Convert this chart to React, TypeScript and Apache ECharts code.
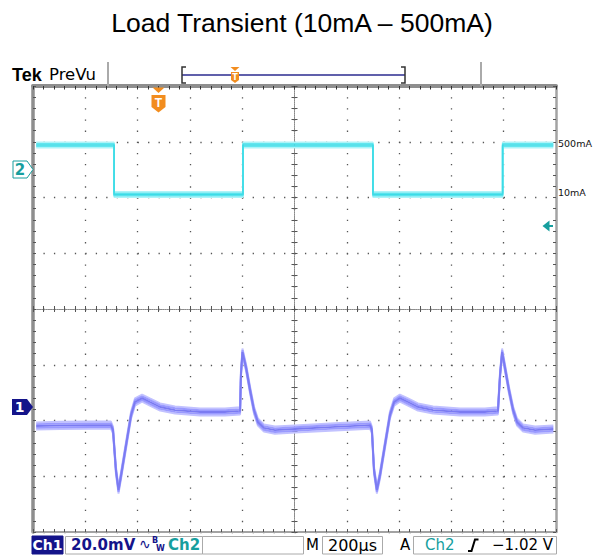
import React, { useEffect, useRef } from "react";
import * as echarts from "echarts";

// ---------- data ----------
const TITLE = "Load Transient (10mA \u2013 500mA)";

// time in µs from the left edge of the screen (10 div × 200 µs)
const ch2Time = [12, 310, 310, 803, 803, 1300, 1300, 1796, 1796, 1990];
const ch2Current = [500, 500, 10, 10, 500, 500, 10, 10, 500, 500]; // mA

const ch1Time = [
  12, 103, 218, 298, 306, 317, 327, 337, 356, 375,
  390, 417, 447, 486, 543, 639, 734, 792, 795, 801,
  815, 830, 845, 860, 883, 925, 1002, 1136, 1289, 1296,
  1304, 1315, 1327, 1346, 1365, 1381, 1403, 1434, 1472, 1530,
  1633, 1728, 1778, 1786, 1794, 1805, 1820, 1836, 1851, 1874,
  1920, 1990,
];
const ch1Voltage = [
  -6.8, -6.6, -6.5, -6.5, -8.3, -22.6, -29.8, -24.4, -13.6, -2.9,
  1.8, 3.2, 1.8, 0, -1.1, -1.8, -1.8, -1.4, 11.5, 19.7,
  14.0, 6.1, -1.1, -5.4, -7.5, -8.3, -7.9, -7.2, -6.5, -8.3,
  -22.6, -29.8, -24.4, -13.6, -2.9, 1.8, 3.2, 1.8, 0, -1.1,
  -1.8, -1.8, -1.4, 11.5, 19.7, 14.0, 6.1, -1.1, -5.4, -7.5,
  -8.3, -7.9,
]; // mV relative to the Ch1 marker

const ch2LevelLabels = ["500mA", "10mA"];
const ch2LevelValues = [500, 10];

const statusCh1 = "Ch1";
const statusVdiv = "20.0mV";
const statusCh2 = "Ch2";
const statusM = "M";
const statusTime = "200\u00b5s";
const statusA = "A";
const statusTrigCh = "Ch2";
const statusTrigLevel = "\u22121.02 V";

// ---------- scales ----------
const TIME_SPAN = 2000;
const TIME_DIV = 200;
const Y_DIVS = 4;
const GRID = { left: 33, top: 86, width: 523, height: 446 };
const PX_PER_DIV_Y = GRID.height / (2 * Y_DIVS);
const PX_PER_DIV_X = GRID.width / (TIME_SPAN / TIME_DIV);

const CH1_MV_PER_DIV = 20;
const CH1_POS_DIV = -1.758;
const CH2_MA_PER_DIV = 552;
const CH2_POS_DIV = 2.036;

const ch1ToDiv = (mv: number) => CH1_POS_DIV + mv / CH1_MV_PER_DIV;
const ch2ToDiv = (ma: number) => CH2_POS_DIV + ma / CH2_MA_PER_DIV;

const ORANGE = "#f28d1f";
const TEAL = "#169e9e";
const NAVY = "#14148a";

function band(
  xs: number[],
  ys: number[],
  toDiv: (v: number) => number,
  offsets: number[],
  colors: string[],
  width: number
) {
  return offsets.map((o, i) => ({
    type: "line",
    data: xs.map((t, k) => [t - TIME_SPAN / 2, toDiv(ys[k]) + o / PX_PER_DIV_Y]),
    symbol: "none",
    silent: true,
    z: 3 + i,
    lineStyle: { color: colors[i], width },
  }));
}

function baseAxis(extra: any) {
  return {
    type: "value",
    axisLabel: { show: false },
    splitLine: { show: false },
    ...extra,
  };
}

export default function App() {
  const ref = useRef<HTMLDivElement>(null);

  useEffect(() => {
    if (!ref.current) return;
    const chart = echarts.init(ref.current, undefined, { renderer: "svg" });

    const xCommon = { min: -TIME_SPAN / 2, max: TIME_SPAN / 2, interval: TIME_DIV };
    const yCommon = { min: -Y_DIVS, max: Y_DIVS, interval: 1 };
    const tick = (inside: boolean, len: number, color = "#555") => ({
      axisTick: { show: true, inside, length: len, lineStyle: { color, width: 1 } },
      minorTick: { show: true, splitNumber: 5, length: len, lineStyle: { color, width: 1 } },
    });
    const dotX = PX_PER_DIV_Y / 5;
    const dotY = PX_PER_DIV_X / 5;

    const ch2Series = band(
      ch2Time,
      ch2Current,
      ch2ToDiv,
      [-2.6, 2.6, -1.3, 1.3, 0],
      ["#aef4f8", "#aef4f8", "#62e6ef", "#62e6ef", "#3ddbe6"],
      1.6
    );
    (ch2Series[ch2Series.length - 1] as any).markLine = {
      silent: true,
      symbol: ["none", "none"],
      lineStyle: { width: 0, color: "rgba(0,0,0,0)", opacity: 1 },
      label: {
        show: true,
        position: "end",
        distance: 2,
        offset: [0, -2],
        color: "#111",
        opacity: 1,
        fontSize: 9.5,
        fontFamily: "DejaVu Sans",
        formatter: (p: any) => p.name,
      },
      data: ch2LevelValues.map((v, i) => ({ name: ch2LevelLabels[i], yAxis: ch2ToDiv(v) })),
    };
    const ch1Series = band(
      ch1Time,
      ch1Voltage,
      ch1ToDiv,
      [-3.6, 3.6, -1.8, 1.8, 0],
      ["#c2c2ff", "#c2c2ff", "#9a9aff", "#9a9aff", "#7b7bf2"],
      1.9
    );

    const txt = (text: string, x: number, y: number, o: any = {}) => ({
      type: "text",
      x,
      y,
      z: 20,
      style: {
        text,
        fontSize: 15,
        fontFamily: "DejaVu Sans",
        fill: "#000",
        align: "left",
        verticalAlign: "middle",
        ...o,
      },
    });
    const box = (x: number, y: number, w: number, h: number, fill = "#fff", stroke = "#aaa") => ({
      type: "rect",
      z: 15,
      shape: { x, y, width: w, height: h },
      style: { fill, stroke, lineWidth: 1 },
    });

    const graphic: any[] = [
      txt(TITLE, 302, 23, { fontSize: 26.5, fontFamily: "Liberation Sans, Arial", align: "center" }),
      // top bar
      txt("Tek", 12, 75, { fontSize: 18, fontWeight: "bold", fontFamily: "Liberation Sans, Arial" }),
      txt("PreVu", 49, 74, { fontSize: 16.5 }),
      { type: "line", z: 15, shape: { x1: 108, y1: 62, x2: 108, y2: 86 }, style: { stroke: "#aaa", lineWidth: 2 } },
      { type: "line", z: 15, shape: { x1: 481, y1: 62, x2: 481, y2: 86 }, style: { stroke: "#aaa", lineWidth: 2 } },
      // record view
      { type: "line", z: 15, shape: { x1: 182, y1: 75, x2: 405, y2: 75 }, style: { stroke: "#2b2b8f", lineWidth: 1.5 } },
      { type: "polyline", z: 15, shape: { points: [[186, 67], [182, 67], [182, 83], [186, 83]] }, style: { stroke: "#333", lineWidth: 1.5, fill: "none" } },
      { type: "polyline", z: 15, shape: { points: [[401, 67], [405, 67], [405, 83], [401, 83]] }, style: { stroke: "#333", lineWidth: 1.5, fill: "none" } },
      { type: "polygon", z: 16, shape: { points: [[230.5, 67], [239.5, 67], [235, 71]] }, style: { fill: ORANGE } },
      { type: "polygon", z: 16, shape: { points: [[231, 72], [239, 72], [239, 80], [235, 83], [231, 80]] }, style: { fill: ORANGE } },
      txt("T", 235, 77, { fontSize: 8, fontWeight: "bold", fill: "#fff", align: "center" }),
      // trigger position marker
      { type: "polygon", z: 16, shape: { points: [[152.5, 87.5], [164.5, 87.5], [158.5, 93]] }, style: { fill: ORANGE } },
      { type: "polygon", z: 16, shape: { points: [[151.5, 95], [165.5, 95], [165.5, 107], [158.5, 112.5], [151.5, 107]] }, style: { fill: ORANGE } },
      txt("T", 158.5, 102.5, { fontSize: 12, fontWeight: "bold", fill: "#fff", align: "center", fontFamily: "Liberation Sans, Arial" }),
      // channel markers
      { type: "polygon", z: 16, shape: { points: [[13, 161], [27, 161], [33, 169.5], [27, 178], [13, 178]] }, style: { fill: "#fff", stroke: TEAL, lineWidth: 1 } },
      txt("2", 20, 169.5, { fontSize: 15, fontWeight: "bold", fill: TEAL, align: "center" }),
      { type: "polygon", z: 16, shape: { points: [[12, 399], [27, 399], [33, 407], [27, 415], [12, 415]] }, style: { fill: NAVY } },
      txt("1", 19.5, 407, { fontSize: 14, fontWeight: "bold", fill: "#fff", align: "center" }),
      // trigger level arrow
      { type: "polygon", z: 16, shape: { points: [[542.5, 226], [549.5, 220.5], [549.5, 231.5]] }, style: { fill: TEAL } },
      { type: "line", z: 16, shape: { x1: 548, y1: 226, x2: 553, y2: 226 }, style: { stroke: TEAL, lineWidth: 2 } },
      // status bar
      box(32, 536, 31, 18, NAVY, NAVY),
      txt(statusCh1, 47.5, 545, { fontSize: 14, fontWeight: "bold", fill: "#fff", align: "center" }),
      box(65.5, 536.5, 137, 17.5),
      box(202.5, 536.5, 101, 17.5),
      box(322.5, 536.5, 60, 17.5),
      box(413.5, 536.5, 143, 17.5),
      txt(statusVdiv, 71, 545, { fontWeight: "bold", fill: NAVY }),
      txt("\u223f", 139, 544, { fontSize: 14, fill: NAVY }),
      txt("B", 152, 540.5, { fontSize: 8, fill: NAVY, fontWeight: "bold" }),
      txt("W", 156, 548, { fontSize: 8, fill: NAVY, fontWeight: "bold" }),
      txt(statusCh2, 168, 545, { fontWeight: "bold", fill: TEAL }),
      txt(statusM, 306, 545),
      txt(statusTime, 328, 545, { fontSize: 16 }),
      txt(statusA, 400, 545),
      txt(statusTrigCh, 425, 545, { fill: TEAL }),
      { type: "polyline", z: 20, shape: { points: [[468, 551], [471.5, 551], [475, 539.5], [478.5, 539.5]] }, style: { stroke: "#000", lineWidth: 2, fill: "none" } },
      txt(statusTrigLevel, 492, 545),
    ];

    chart.setOption({
      animation: false,
      backgroundColor: "#fff",
      grid: { ...GRID, containLabel: false, outerBoundsMode: "none" },
      xAxis: [
        baseAxis({
          ...xCommon,
          position: "bottom",
          axisLine: { show: true, onZero: false, lineStyle: { color: "#a3a3a3", width: 2 } },
          ...tick(true, 3),
          splitLine: { show: true, lineStyle: { color: "#555", width: 1.3, type: [1.3, dotX - 1.3] } },
        }),
        baseAxis({
          ...xCommon,
          position: "top",
          axisLine: { show: true, onZero: false, lineStyle: { color: "#8e8e8e", width: 4 } },
          ...tick(true, 3.5, "#333"),
        }),
        baseAxis({
          ...xCommon,
          position: "bottom",
          axisLine: { show: true, onZero: true, onZeroAxisIndex: 0, lineStyle: { color: "#8a8a8a", width: 1, type: [1, 1.2] } },
          ...tick(true, 3),
        }),
        baseAxis({
          ...xCommon,
          position: "bottom",
          axisLine: { show: true, onZero: true, onZeroAxisIndex: 0, lineStyle: { color: "#8a8a8a", width: 1, type: [1, 1.2] } },
          ...tick(false, 3),
        }),
      ],
      yAxis: [
        baseAxis({
          ...yCommon,
          position: "left",
          axisLine: { show: true, onZero: false, lineStyle: { color: "#8e8e8e", width: 3.5 } },
          ...tick(true, 3),
          splitLine: { show: true, lineStyle: { color: "#555", width: 1.3, type: [1.3, dotY - 1.3] } },
        }),
        baseAxis({
          ...yCommon,
          position: "right",
          axisLine: { show: true, onZero: false, lineStyle: { color: "#a3a3a3", width: 2.5 } },
          ...tick(true, 3),
        }),
        baseAxis({
          ...yCommon,
          position: "left",
          axisLine: { show: true, onZero: true, onZeroAxisIndex: 0, lineStyle: { color: "#8a8a8a", width: 1, type: [1, 1.2] } },
          ...tick(true, 3),
        }),
        baseAxis({
          ...yCommon,
          position: "left",
          axisLine: { show: true, onZero: true, onZeroAxisIndex: 0, lineStyle: { color: "#8a8a8a", width: 1, type: [1, 1.2] } },
          ...tick(false, 3),
        }),
      ],
      series: [...ch2Series, ...ch1Series],
      graphic,
    });

    return () => chart.dispose();
  }, []);

  return (
    <div
      ref={ref}
      style={{ position: "absolute", left: 0, top: 0, width: 600, height: 555, background: "#fff" }}
    />
  );
}
